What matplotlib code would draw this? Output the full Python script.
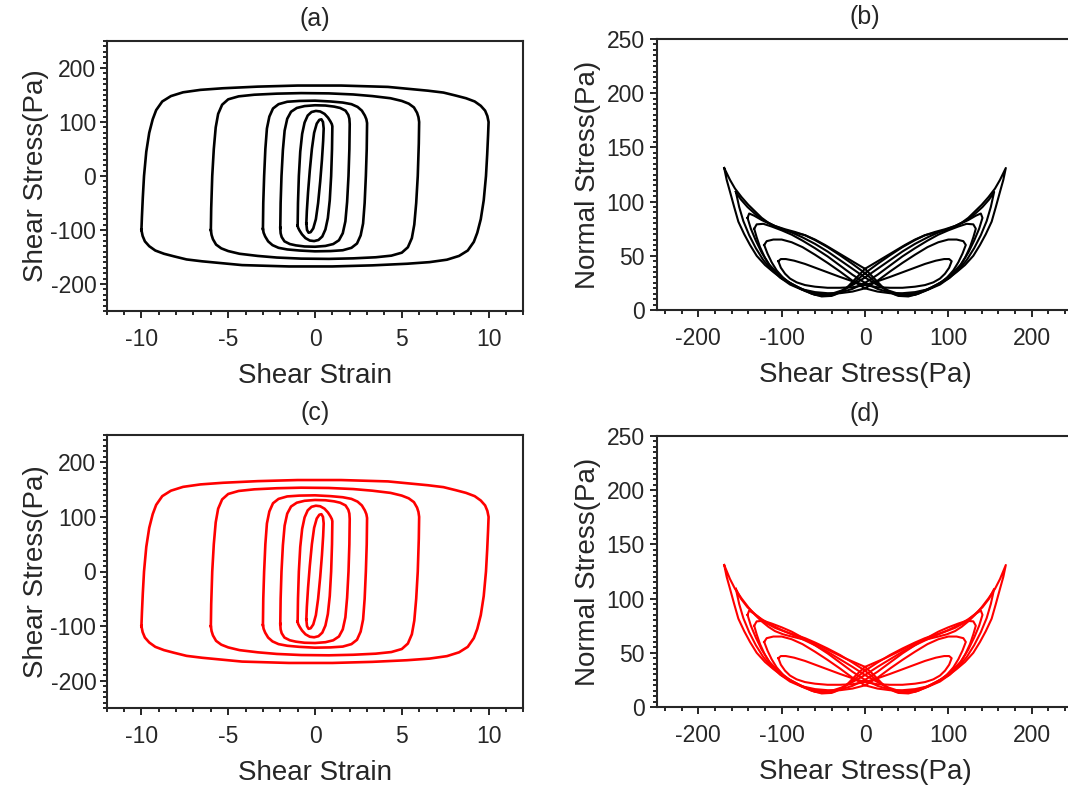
import matplotlib
matplotlib.use("Agg")
import matplotlib.pyplot as plt
from matplotlib.ticker import MultipleLocator

plt.rcParams["font.family"] = ["Liberation Sans", "DejaVu Sans"]
plt.rcParams["axes.unicode_minus"] = False
INK = "#262626"

# ---- (a)/(c): shear stress vs shear strain, one closed loop per strain amplitude ----
strain_05 = [-0.5, -0.47, -0.4, -0.3, -0.18, -0.05, 0.1, 0.25, 0.37, 0.46, 0.5,
             0.47, 0.4, 0.3, 0.18, 0.05, -0.1, -0.25, -0.37, -0.46, -0.5]
stress_05 = [-88, -65, -30, 10, 50, 80, 97, 104, 105, 100, 88,
             65, 30, -10, -50, -80, -97, -104, -105, -100, -88]

strain_1 = [-1.0, -0.98, -0.93, -0.85, -0.74, -0.6, -0.42, -0.2, 0.05, 0.3, 0.55, 0.75, 0.89, 0.97, 1.0,
            0.98, 0.93, 0.85, 0.74, 0.6, 0.42, 0.2, -0.05, -0.3, -0.55, -0.75, -0.89, -0.97, -1.0]
stress_1 = [-92, -50, 0, 45, 78, 99, 112, 118.5, 120.5, 119.5, 115, 108, 101, 96, 92,
            50, 0, -45, -78, -99, -112, -118.5, -120.5, -119.5, -115, -108, -101, -96, -92]

strain_2 = [-2.0, -1.98, -1.93, -1.85, -1.75, -1.6, -1.38, -1.05, -0.6, 0.0, 0.6, 1.1, 1.45, 1.76, 1.92, 1.98, 2.0,
            1.98, 1.93, 1.85, 1.75, 1.6, 1.38, 1.05, 0.6, 0.0, -0.6, -1.1, -1.45, -1.76, -1.92, -1.98, -2.0]
stress_2 = [-96, -50, 0, 48, 84, 106, 119, 126, 129.5, 131, 130.5, 128.5, 126, 121, 113, 106, 96,
            50, 0, -48, -84, -106, -119, -126, -129.5, -131, -130.5, -128.5, -126, -121, -113, -106, -96]

strain_3 = [-3.0, -2.98, -2.93, -2.86, -2.77, -2.63, -2.42, -2.1, -1.6, -0.9, 0.0, 0.9, 1.6, 2.1, 2.45, 2.7, 2.87, 2.96, 3.0,
            2.98, 2.93, 2.86, 2.77, 2.63, 2.42, 2.1, 1.6, 0.9, 0.0, -0.9, -1.6, -2.1, -2.45, -2.7, -2.87, -2.96, -3.0]
stress_3 = [-98, -50, 0, 50, 88, 110, 125, 133, 137.5, 139, 139.5, 138, 136, 133, 128, 121, 112, 105, 98,
            50, 0, -50, -88, -110, -125, -133, -137.5, -139, -139.5, -138, -136, -133, -128, -121, -112, -105, -98]

strain_6 = [-6.0, -5.98, -5.92, -5.83, -5.72, -5.58, -5.35, -5.0, -4.4, -3.5, -2.2, -0.8, 0.8, 2.2, 3.3, 4.35,
            5.0, 5.4, 5.7, 5.88, 5.96, 6.0,
            5.98, 5.92, 5.83, 5.72, 5.58, 5.35, 5.0, 4.4, 3.5, 2.2, 0.8, -0.8, -2.2, -3.3, -4.35,
            -5.0, -5.4, -5.7, -5.88, -5.96, -6.0]
stress_6 = [-100, -60, 0, 50, 90, 115, 132, 142, 147.5, 150.5, 152.5, 153.5, 153, 151, 148, 144,
            139, 134, 127, 117, 109, 100,
            60, 0, -50, -90, -115, -132, -142, -147.5, -150.5, -152.5, -153.5, -153, -151, -148, -144,
            -139, -134, -127, -117, -109, -100]

strain_10 = [-10.0, -9.97, -9.92, -9.85, -9.72, -9.55, -9.35, -9.15, -8.8, -8.3, -7.6, -6.6, -5.3, -3.3, -1.0,
             1.5, 4.2, 6.5, 7.4, 8.1, 8.7, 9.2, 9.55, 9.8, 9.93, 10.0,
             9.97, 9.92, 9.85, 9.72, 9.55, 9.35, 9.15, 8.8, 8.3, 7.6, 6.6, 5.3, 3.3, 1.0,
             -1.5, -4.2, -6.5, -7.4, -8.1, -8.7, -9.2, -9.55, -9.8, -9.93, -10.0]
stress_10 = [-100, -75, -40, 0, 45, 80, 105, 122, 138, 148, 155, 159.5, 162.5, 165.5, 167.5,
             167.5, 165, 158, 154.5, 149, 144, 138, 130, 121, 111, 100,
             75, 40, 0, -45, -80, -105, -122, -138, -148, -155, -159.5, -162.5, -165.5, -167.5,
             -167.5, -165, -158, -154.5, -149, -144, -138, -130, -121, -111, -100]

# ---- (b)/(d): normal stress vs shear stress, same six amplitudes ----
shear_05 = [-104, -101, -95, -85, -72, -58, -44, -30, -15, 0, 15, 30, 45, 60, 72, 82, 90, 96, 101, 104,
            101, 95, 85, 72, 58, 44, 30, 15, 0, -15, -30, -45, -60, -72, -82, -90, -96, -101, -104]
normal_05 = [45, 47, 47, 45.5, 42.5, 38.5, 34.5, 30.5, 26.5, 23, 21, 20.5, 20.5, 21.5, 23, 25.5, 29, 33.5, 39, 45,
             47, 47, 45.5, 42.5, 38.5, 34.5, 30.5, 26.5, 23, 21, 20.5, 20.5, 21.5, 23, 25.5, 29, 33.5, 39, 45]

shear_1 = [-121, -118, -110, -100, -88, -75, -60, -45, -30, -15, 0, 15, 30, 45, 60, 75, 88, 98, 106, 112, 117, 121,
           118, 110, 100, 88, 75, 60, 45, 30, 15, 0, -15, -30, -45, -60, -75, -88, -98, -106, -112, -117, -121]
normal_1 = [60, 63.5, 65, 65, 62.5, 58, 51, 43.5, 35.5, 27, 20, 17, 15.5, 15.5, 16.5, 19, 23.5, 29.5, 36.5, 44, 52, 60,
            63.5, 65, 65, 62.5, 58, 51, 43.5, 35.5, 27, 20, 17, 15.5, 15.5, 16.5, 19, 23.5, 29.5, 36.5, 44, 52, 60]

shear_2 = [-133, -130, -122, -112, -100, -88, -75, -60, -45, -30, -15, 0, 15, 30, 45, 60, 75, 90, 102, 112, 120, 126, 130, 133,
           130, 122, 112, 100, 88, 75, 60, 45, 30, 15, 0, -15, -30, -45, -60, -75, -90, -102, -112, -120, -126, -130, -133]
normal_2 = [75, 79, 79.5, 77, 73.5, 69.5, 64, 57, 49.5, 41, 32.5, 25, 19.5, 16, 14.5, 15.5, 18.5, 23.5, 30, 38, 48, 58, 67, 75,
            79, 79.5, 77, 73.5, 69.5, 64, 57, 49.5, 41, 32.5, 25, 19.5, 16, 14.5, 15.5, 18.5, 23.5, 30, 38, 48, 58, 67, 75]

shear_3 = [-141, -139, -133, -124, -113, -100, -88, -75, -60, -45, -30, -15, 0, 15, 28, 40, 52, 65, 78, 92, 104, 115, 124, 131, 137, 141,
           139, 133, 124, 113, 100, 88, 75, 60, 45, 30, 15, 0, -15, -28, -40, -52, -65, -78, -92, -104, -115, -124, -131, -137, -141]
normal_3 = [85, 89, 87, 83, 79, 75, 71.5, 67, 61, 54, 46, 38, 30, 23, 18, 15, 14, 16, 20, 26, 33, 42, 53, 64, 75, 85,
            89, 87, 83, 79, 75, 71.5, 67, 61, 54, 46, 38, 30, 23, 18, 15, 14, 16, 20, 26, 33, 42, 53, 64, 75, 85]
normal_3d = [85, 89, 86, 81, 76, 71, 67, 62.5, 57, 51, 44, 37, 29.5, 23, 18, 15, 14, 16, 20, 26, 33, 42, 53, 64, 75, 85,
             89, 86, 81, 76, 71, 67, 62.5, 57, 51, 44, 37, 29.5, 23, 18, 15, 14, 16, 20, 26, 33, 42, 53, 64, 75, 85]

shear_6 = [-155, -149, -141, -131, -120, -108, -96, -84, -72, -60, -45, -30, -15, 0, 12, 24, 36, 48, 60, 72, 86, 100,
           112, 122, 131, 139, 146, 151, 155,
           149, 141, 131, 120, 108, 96, 84, 72, 60, 45, 30, 15, 0, -12, -24, -36, -48, -60, -72, -86, -100,
           -112, -122, -131, -139, -146, -151, -155]
normal_6 = [109, 102, 95, 88, 82, 77.5, 74.5, 72, 69, 64.5, 58, 50.5, 42.5, 34, 26, 19, 14.5, 13, 14, 17.5, 23, 29.5,
            37, 46, 57, 69, 82, 95, 109,
            102, 95, 88, 82, 77.5, 74.5, 72, 69, 64.5, 58, 50.5, 42.5, 34, 26, 19, 14.5, 13, 14, 17.5, 23, 29.5,
            37, 46, 57, 69, 82, 95, 109]
normal_6d = [109, 100, 92, 85, 78, 73, 69.5, 66.5, 63.5, 59.5, 54, 48, 41, 33.5, 26, 19, 14.5, 13, 14, 17.5, 23, 29.5,
             37, 46, 57, 69, 82, 95, 109,
             100, 92, 85, 78, 73, 69.5, 66.5, 63.5, 59.5, 54, 48, 41, 33.5, 26, 19, 14.5, 13, 14, 17.5, 23, 29.5,
             37, 46, 57, 69, 82, 95, 109]

shear_10 = [-169, -162, -156, -148, -140, -132, -124, -116, -108, -98, -88, -80, -72, -60, -48, -36, -24, -12, 0,
            10, 20, 30, 40, 52, 64, 76, 88, 100, 110, 120, 130, 138, 145, 152, 157, 162, 166, 169,
            162, 156, 148, 140, 132, 124, 116, 108, 98, 88, 80, 72, 60, 48, 36, 24, 12, 0,
            -10, -20, -30, -40, -52, -64, -76, -88, -100, -110, -120, -130, -138, -145, -152, -157, -162, -166, -169]
normal_10 = [131, 120, 112, 104, 97, 91, 85, 80.5, 77, 74, 72, 70.5, 69, 65, 60, 54.5, 49, 43.5, 38,
             30, 22, 16, 13, 12.5, 15, 19.5, 24, 29, 35, 41.5, 50, 60, 70, 81.5, 95, 109, 120, 131,
             120, 112, 104, 97, 91, 85, 80.5, 77, 74, 72, 70.5, 69, 65, 60, 54.5, 49, 43.5, 38,
             30, 22, 16, 13, 12.5, 15, 19.5, 24, 29, 35, 41.5, 50, 60, 70, 81.5, 95, 109, 120, 131]
normal_10d = [131, 118, 109, 100, 92, 85, 79, 74, 70, 67, 65, 63.5, 62, 58.5, 54, 49.5, 45, 41, 37,
              30, 22, 16, 13, 12.5, 15, 19.5, 24, 29, 35, 41.5, 50, 60, 70, 81.5, 95, 109, 120, 131,
              118, 109, 100, 92, 85, 79, 74, 70, 67, 65, 63.5, 62, 58.5, 54, 49.5, 45, 41, 37,
              30, 22, 16, 13, 12.5, 15, 19.5, 24, 29, 35, 41.5, 50, 60, 70, 81.5, 95, 109, 120, 131]

loops_a = [(strain_05, stress_05), (strain_1, stress_1), (strain_2, stress_2),
           (strain_3, stress_3), (strain_6, stress_6), (strain_10, stress_10)]
loops_b = [(shear_05, normal_05), (shear_1, normal_1), (shear_2, normal_2),
           (shear_3, normal_3), (shear_6, normal_6), (shear_10, normal_10)]
loops_d = [(shear_05, normal_05), (shear_1, normal_1), (shear_2, normal_2),
           (shear_3, normal_3d), (shear_6, normal_6d), (shear_10, normal_10d)]

fig = plt.figure(figsize=(10.68, 7.85), dpi=100)


def style(ax, title, xlabel, ylabel, ypad, ylabelpad):
    for s in ax.spines.values():
        s.set_linewidth(1.5)
        s.set_color(INK)
    ax.tick_params(which="both", direction="out", top=False, right=False,
                   colors=INK, width=1.4, labelsize=16.5)
    ax.tick_params(which="major", length=5)
    ax.tick_params(which="minor", length=2.8)
    ax.tick_params(axis="x", which="major", pad=7)
    ax.tick_params(axis="y", which="major", pad=ypad)
    ax.set_title(title, fontsize=18, color=INK, pad=11)
    ax.set_xlabel(xlabel, fontsize=20, color=INK, labelpad=9)
    ax.set_ylabel(ylabel, fontsize=20, color=INK, labelpad=ylabelpad)


def panel_strain(rect, color, title):
    ax = fig.add_axes(rect)
    for x, y in loops_a:
        ax.plot(x, y, color=color, lw=1.9, solid_joinstyle="round")
    ax.set_xlim(-12, 12)
    ax.set_ylim(-250, 250)
    ax.set_xticks([-10, -5, 0, 5, 10])
    ax.set_yticks([-200, -100, 0, 100, 200])
    ax.xaxis.set_minor_locator(MultipleLocator(1))
    ax.yaxis.set_minor_locator(MultipleLocator(10))
    style(ax, title, "Shear Strain", "Shear Stress(Pa)", 2.5, 1)


def panel_normal(rect, color, title, loops):
    ax = fig.add_axes(rect)
    for x, y in loops:
        ax.plot(x, y, color=color, lw=1.5, solid_joinstyle="round")
    ax.set_xlim(-250, 250)
    ax.set_ylim(0, 250)
    ax.set_xticks([-200, -100, 0, 100, 200])
    ax.set_yticks([0, 50, 100, 150, 200, 250])
    ax.xaxis.set_minor_locator(MultipleLocator(20))
    ax.yaxis.set_minor_locator(MultipleLocator(5))
    style(ax, title, "Shear Stress(Pa)", "Normal Stress(Pa)", 3.5, 4)


W, H = 1068, 785
panel_strain([106.7 / W, 1 - 311 / H, 416.6 / W, 270 / H], "black", "(a)")
panel_normal([656.7 / W, 1 - 310 / H, 416.6 / W, 271 / H], "black", "(b)", loops_b)
panel_strain([106.7 / W, 1 - 708 / H, 416.6 / W, 273 / H], "#ff0000", "(c)")
panel_normal([656.7 / W, 1 - 707 / H, 416.6 / W, 271 / H], "#ff0000", "(d)", loops_d)

fig.savefig("out.png", dpi=100)
